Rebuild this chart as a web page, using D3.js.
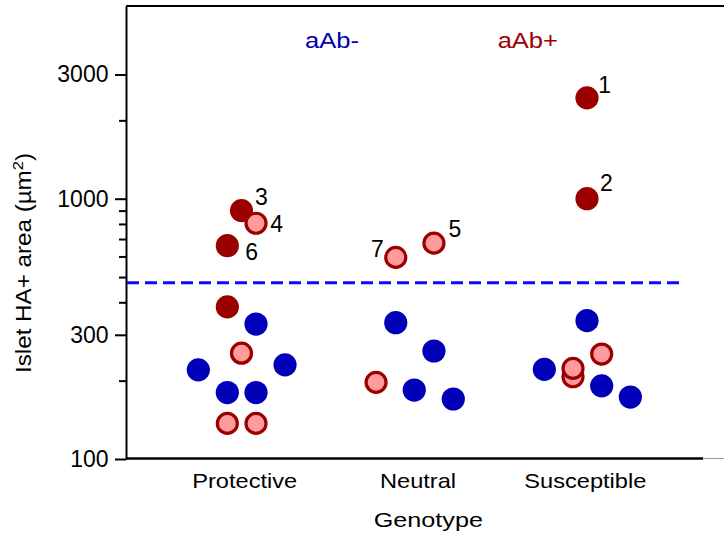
<!DOCTYPE html>
<html>
<head>
<meta charset="utf-8">
<script src="https://cdn.jsdelivr.net/npm/d3@7"></script>
<style>
  body { margin: 0; background: #fff; }
  svg { display: block; }
</style>
</head>
<body>
<div id="chart"></div>
<script>
// Data
const categories = ["Protective", "Neutral", "Susceptible"];
const groupNames = ["aAb-", "aAb+"];

// one entry per islet donor: genotype index, horizontal jitter, HA+ area, status, label
const pointGenotype = [0, 0, 0, 0, 0, 0, 0, 0, 0, 0, 0, 0,
                       1, 1, 1, 1, 1, 1, 1,
                       2, 2, 2, 2, 2, 2, 2, 2, 2];
const pointJitter = [0, 0.084, -0.082, -0.082, 0.084, 0, -0.25, 0.252, -0.082, 0.084, -0.082, 0.084,
                     0.114, -0.107, -0.107, 0.114, -0.221, 0, 0.226,
                     0, 0, 0, 0.085, -0.247, -0.081, -0.081, 0.085, 0.251];
const pointArea = [900, 805, 660, 384, 330, 255, 220, 230, 180, 180, 137, 137,
                   675, 595, 334, 260, 197, 184, 170,
                   2440, 1000, 340, 253, 221, 207, 223, 191, 173];
const pointStatus = ["pos", "ring", "pos", "pos", "neg", "ring", "neg", "neg", "neg", "neg", "ring", "ring",
                     "ring", "ring", "neg", "neg", "ring", "neg", "neg",
                     "pos", "pos", "neg", "ring", "neg", "ring", "ring", "neg", "neg"];
const pointLabel = ["3", "4", "6", "", "", "", "", "", "", "", "", "",
                    "5", "7", "", "", "", "", "",
                    "1", "2", "", "", "", "", "", "", ""];

const threshold = 475;
const majorTicks = [100, 300, 1000, 3000];
const minorTicks = [200, 400, 500, 600, 700, 800, 900, 2000];

// Layout
let width = 724;
let height = 539;
let plotLeft = 126, plotTop = 6, plotBottom = 459;

// label offsets from the point centre (pixels)
const labelOffset = {
  "1": [17.7, -13.3], "2": [19.4, -16.3], "3": [20, -14.3], "4": [20.7, 0],
  "5": [21, -14], "6": [24.4, 6], "7": [-18.4, -8.7]
};

const blue = "#0000b8", darkRed = "#9a0000", pink = "#ff9b9b";
const font = "'Liberation Sans', Arial, Helvetica, sans-serif";

let svg = d3.select("#chart")
  .append("svg")
  .attr("width", width)
  .attr("height", height);

// Scales
let x = d3.scaleLinear()
  .domain([0, 2])
  .range([241.5, 587]);

let y = d3.scaleLog()
  .domain([100, 5500])
  .range([plotBottom, plotTop]);

// Frame: top line and bottom line (no right border)
svg.append("line")
  .attr("x1", plotLeft).attr("x2", width)
  .attr("y1", plotTop).attr("y2", plotTop)
  .style("stroke", "#000").style("stroke-width", 2);

svg.append("line")
  .attr("x1", plotLeft).attr("x2", 703)
  .attr("y1", plotBottom - 0.5).attr("y2", plotBottom - 0.5)
  .style("stroke", "#000").style("stroke-width", 2.5);

svg.append("line")
  .attr("x1", 703).attr("x2", width)
  .attr("y1", plotBottom - 0.5).attr("y2", plotBottom - 0.5)
  .style("stroke", "#999").style("stroke-width", 1);

// Y axis, major ticks with labels
let yAxisMajor = d3.axisLeft(y)
  .tickValues(majorTicks)
  .tickFormat(d => d)
  .tickSize(11)
  .tickSizeOuter(0)
  .tickPadding(6.5);

let gMajor = svg.append("g")
  .attr("transform", "translate(" + plotLeft + ",0)")
  .call(yAxisMajor);

gMajor.select(".domain").style("stroke-width", 2);
gMajor.selectAll(".tick line").style("stroke-width", 2);
gMajor.selectAll(".tick text")
  .style("font-family", font)
  .style("font-size", "23px")
  .style("fill", "#000");

// Y axis, minor ticks
let yAxisMinor = d3.axisLeft(y)
  .tickValues(minorTicks)
  .tickFormat("")
  .tickSize(7)
  .tickSizeOuter(0);

let gMinor = svg.append("g")
  .attr("transform", "translate(" + plotLeft + ",0)")
  .call(yAxisMinor);
gMinor.select(".domain").remove();
gMinor.selectAll(".tick line").style("stroke-width", 2);

// Threshold line
svg.append("line")
  .attr("x1", plotLeft + 1).attr("x2", 683)
  .attr("y1", y(threshold)).attr("y2", y(threshold))
  .style("stroke", "#0a0aff")
  .style("stroke-width", 3)
  .style("stroke-dasharray", "12,6");

// Points
let points = pointArea.map((v, i) => ({
  cx: x(pointGenotype[i] + pointJitter[i]),
  cy: y(v),
  status: pointStatus[i],
  label: pointLabel[i]
}));

points.forEach(function (d) {
  if (d.status === "ring") {
    svg.append("circle")
      .attr("cx", d.cx).attr("cy", d.cy)
      .attr("r", 10)
      .style("fill", pink)
      .style("stroke", darkRed)
      .style("stroke-width", 3.2);
  } else {
    svg.append("circle")
      .attr("cx", d.cx).attr("cy", d.cy)
      .attr("r", 11.6)
      .style("fill", d.status === "neg" ? blue : darkRed);
  }
});

// Point numbers
points.filter(d => d.label !== "").forEach(function (d) {
  let off = labelOffset[d.label];
  svg.append("text")
    .attr("x", d.cx + off[0])
    .attr("y", d.cy + off[1] + 8.3)
    .attr("text-anchor", "middle")
    .style("font-family", font)
    .style("font-size", "23px")
    .style("fill", "#000")
    .text(d.label);
});

// Group labels
svg.append("text")
  .attr("transform", "translate(332,48.3) scale(1.16,1)")
  .attr("text-anchor", "middle")
  .style("font-family", font)
  .style("font-size", "22px")
  .style("fill", "#0000aa")
  .text(groupNames[0]);

svg.append("text")
  .attr("transform", "translate(527.8,48.3) scale(1.16,1)")
  .attr("text-anchor", "middle")
  .style("font-family", font)
  .style("font-size", "22px")
  .style("fill", darkRed)
  .text(groupNames[1]);

// Category labels
const catCentre = [244.7, 418, 585.3];
categories.forEach(function (c, i) {
  svg.append("text")
    .attr("transform", "translate(" + catCentre[i] + ",487.7) scale(1.18,1)")
    .attr("text-anchor", "middle")
    .style("font-family", font)
    .style("font-size", "20px")
    .style("fill", "#000")
    .text(c);
});

// Axis titles
svg.append("text")
  .attr("transform", "translate(428.3,526.7) scale(1.2,1)")
  .attr("text-anchor", "middle")
  .style("font-family", font)
  .style("font-size", "21px")
  .style("fill", "#000")
  .text("Genotype");

let yTitle = svg.append("text")
  .attr("transform", "translate(31,263) rotate(-90) scale(1.1,1)")
  .attr("text-anchor", "middle")
  .style("font-family", font)
  .style("font-size", "22px")
  .style("fill", "#000");
yTitle.append("tspan").text("Islet HA+ area (\u00B5m");
yTitle.append("tspan").attr("dy", -8).style("font-size", "15px").text("2");
yTitle.append("tspan").attr("dy", 8).text(")");
</script>
</body>
</html>
